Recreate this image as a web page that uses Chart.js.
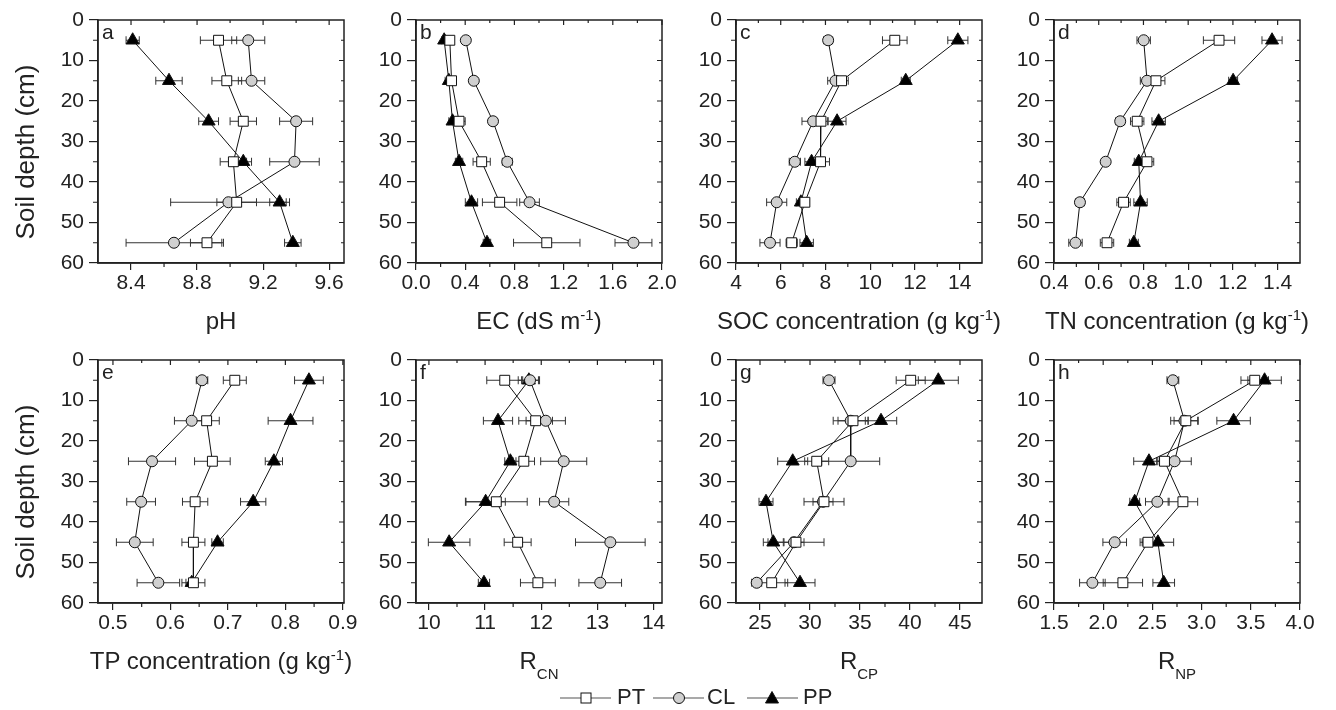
<!DOCTYPE html>
<html>
<head>
<meta charset="utf-8">
<script src="https://cdn.jsdelivr.net/npm/chart.js@4.4.1/dist/chart.umd.min.js"></script>
<style>
  body { margin: 0; background: #fff; width: 1336px; height: 710px; position: relative; overflow: hidden;
         font-family: "Liberation Sans", Arial, sans-serif; color: #222; }
  canvas { position: absolute; }
  .t { position: absolute; font-size: 24px; line-height: 1; white-space: nowrap; transform: translateX(-50%); }
  .t sup { font-size: 15px; line-height: 0; vertical-align: 9px; }
  .t sub { font-size: 15px; line-height: 0; vertical-align: -10px; }
  .yt { position: absolute; font-size: 26px; line-height: 1; white-space: nowrap; transform: translate(-50%, -50%) rotate(-90deg); }
  .lt { position: absolute; font-size: 21px; line-height: 1; }
  .lg { position: absolute; font-size: 22px; line-height: 1; }
</style>
</head>
<body>
<script>
// soil depth of each sampled layer (cm)
const depth = [5, 15, 25, 35, 45, 55];
const depthTicks = [0, 10, 20, 30, 40, 50, 60];

// a - pH
const phPT = [8.93, 8.98, 9.08, 9.02, 9.04, 8.86];
const phPTse = [0.11, 0.09, 0.08, 0.08, 0.12, 0.10];
const phCL = [9.11, 9.13, 9.40, 9.39, 8.99, 8.66];
const phCLse = [0.10, 0.08, 0.10, 0.15, 0.35, 0.29];
const phPP = [8.41, 8.63, 8.87, 9.08, 9.30, 9.38];
const phPPse = [0.04, 0.08, 0.06, 0.05, 0.06, 0.05];
const phTicks = [8.4, 8.8, 9.2, 9.6];

// b - EC
const ecPT = [0.275, 0.289, 0.35, 0.534, 0.68, 1.063];
const ecPTse = [0.02, 0.02, 0.05, 0.07, 0.14, 0.27];
const ecCL = [0.405, 0.47, 0.626, 0.742, 0.923, 1.768];
const ecCLse = [0.02, 0.03, 0.03, 0.04, 0.08, 0.15];
const ecPP = [0.229, 0.267, 0.297, 0.35, 0.451, 0.577];
const ecPPse = [0.02, 0.03, 0.03, 0.03, 0.05, 0.03];
const ecTicks = [0, 0.4, 0.8, 1.2, 1.6, 2.0];

// c - SOC
const socPT = [11.10, 8.72, 7.80, 7.78, 7.08, 6.49];
const socPTse = [0.55, 0.30, 0.30, 0.40, 0.20, 0.25];
const socCL = [8.12, 8.45, 7.45, 6.63, 5.82, 5.52];
const socCLse = [0.20, 0.35, 0.50, 0.25, 0.45, 0.45];
const socPP = [13.92, 11.59, 8.52, 7.38, 6.90, 7.16];
const socPPse = [0.45, 0.20, 0.40, 0.30, 0.20, 0.30];
const socTicks = [4, 6, 8, 10, 12, 14];

// d - TN
const tnPT = [1.138, 0.856, 0.772, 0.816, 0.711, 0.637];
const tnPTse = [0.07, 0.04, 0.03, 0.03, 0.03, 0.03];
const tnCL = [0.801, 0.816, 0.696, 0.631, 0.516, 0.496];
const tnCLse = [0.03, 0.03, 0.02, 0.01, 0.02, 0.03];
const tnPP = [1.375, 1.201, 0.868, 0.779, 0.787, 0.757];
const tnPPse = [0.045, 0.02, 0.03, 0.02, 0.03, 0.02];
const tnTicks = [0.4, 0.6, 0.8, 1.0, 1.2, 1.4];

// e - TP
const tpPT = [0.712, 0.663, 0.673, 0.643, 0.640, 0.640];
const tpPTse = [0.02, 0.022, 0.031, 0.022, 0.02, 0.02];
const tpCL = [0.655, 0.637, 0.568, 0.549, 0.538, 0.579];
const tpCLse = [0.01, 0.03, 0.041, 0.025, 0.032, 0.037];
const tpPP = [0.841, 0.809, 0.780, 0.744, 0.682, 0.637];
const tpPPse = [0.025, 0.039, 0.015, 0.022, 0.01, 0.01];
const tpTicks = [0.5, 0.6, 0.7, 0.8, 0.9];

// f - C:N
const cnPT = [11.35, 11.90, 11.69, 11.20, 11.58, 11.94];
const cnPTse = [0.32, 0.30, 0.19, 0.55, 0.24, 0.31];
const cnCL = [11.80, 12.08, 12.40, 12.23, 13.23, 13.05];
const cnCLse = [0.15, 0.35, 0.41, 0.26, 0.62, 0.38];
const cnPP = [11.78, 11.23, 11.45, 11.01, 10.36, 10.98];
const cnPPse = [0.19, 0.26, 0.10, 0.35, 0.37, 0.10];
const cnTicks = [10, 11, 12, 13, 14];

// g - C:P
const cpPT = [40.07, 34.3, 30.67, 31.4, 28.6, 26.17];
const cpPTse = [1.45, 1.5, 1.2, 2.0, 2.8, 1.6];
const cpCL = [31.9, 34.07, 34.07, 31.3, 28.4, 24.67];
const cpCLse = [0.6, 1.75, 2.9, 1.0, 1.0, 0.5];
const cpPP = [42.83, 37.1, 28.27, 25.6, 26.33, 29.0];
const cpPPse = [2.0, 1.57, 1.5, 0.7, 1.0, 1.5];
const cpTicks = [25, 30, 35, 40, 45];

// h - N:P
const npPT = [3.54, 2.84, 2.623, 2.81, 2.455, 2.20];
const npPTse = [0.14, 0.12, 0.08, 0.15, 0.08, 0.20];
const npCL = [2.708, 2.826, 2.725, 2.55, 2.117, 1.89];
const npCLse = [0.06, 0.14, 0.17, 0.12, 0.12, 0.13];
const npPP = [3.64, 3.325, 2.465, 2.32, 2.556, 2.615];
const npPPse = [0.17, 0.17, 0.155, 0.05, 0.16, 0.11];
const npTicks = [1.5, 2.0, 2.5, 3.0, 3.5, 4.0];

const colX = [98, 416, 736, 1054]; // left edge of each plot box
const rowY = [20, 360];            // top edge of each plot box
const PW = 246, PH = 243;
const FONT = '"Liberation Sans", Arial, sans-serif';

const panels = [
  { tag: 'a', col: 0, row: 0, min: 8.2, max: 9.69, ticks: phTicks, minor: 0.2, dec: 1,
    pt: phPT, ptE: phPTse, cl: phCL, clE: phCLse, pp: phPP, ppE: phPPse, title: 'pH' },
  { tag: 'b', col: 1, row: 0, min: 0, max: 2.0, ticks: ecTicks, minor: 0.2, dec: 1,
    pt: ecPT, ptE: ecPTse, cl: ecCL, clE: ecCLse, pp: ecPP, ppE: ecPPse, title: 'EC (dS m<sup>-1</sup>)' },
  { tag: 'c', col: 2, row: 0, min: 4, max: 15, ticks: socTicks, minor: 1, dec: 0,
    pt: socPT, ptE: socPTse, cl: socCL, clE: socCLse, pp: socPP, ppE: socPPse, title: 'SOC concentration (g kg<sup>-1</sup>)' },
  { tag: 'd', col: 3, row: 0, min: 0.4, max: 1.5, ticks: tnTicks, minor: 0.1, dec: 1,
    pt: tnPT, ptE: tnPTse, cl: tnCL, clE: tnCLse, pp: tnPP, ppE: tnPPse, title: 'TN concentration (g kg<sup>-1</sup>)' },
  { tag: 'e', col: 0, row: 1, min: 0.474, max: 0.902, ticks: tpTicks, minor: 0.05, dec: 1,
    pt: tpPT, ptE: tpPTse, cl: tpCL, clE: tpCLse, pp: tpPP, ppE: tpPPse, title: 'TP concentration (g kg<sup>-1</sup>)' },
  { tag: 'f', col: 1, row: 1, min: 9.77, max: 14.15, ticks: cnTicks, minor: 0.5, dec: 0,
    pt: cnPT, ptE: cnPTse, cl: cnCL, clE: cnCLse, pp: cnPP, ppE: cnPPse, title: 'R<sub>CN</sub>' },
  { tag: 'g', col: 2, row: 1, min: 22.6, max: 47.2, ticks: cpTicks, minor: 2.5, dec: 0,
    pt: cpPT, ptE: cpPTse, cl: cpCL, clE: cpCLse, pp: cpPP, ppE: cpPPse, title: 'R<sub>CP</sub>' },
  { tag: 'h', col: 3, row: 1, min: 1.5, max: 4.0, ticks: npTicks, minor: 0.25, dec: 1,
    pt: npPT, ptE: npPTse, cl: npCL, clE: npCLse, pp: npPP, ppE: npPPse, title: 'R<sub>NP</sub>' }
];

// box, minor ticks, inward ticks on top/right, and horizontal error bars
const frame = {
  id: 'frame',
  beforeDatasetsDraw(chart, args, opts) {
    const { ctx, chartArea: a, scales: { x, y } } = chart;
    ctx.save();
    ctx.strokeStyle = '#222';
    ctx.lineWidth = 1.5;
    ctx.strokeRect(a.left, a.top, a.right - a.left, a.bottom - a.top);

    ctx.lineWidth = 1.2;
    ctx.beginPath();
    const majX = x.ticks.map(t => t.value);
    const k0 = Math.ceil(x.min / opts.minor - 1e-6), k1 = Math.floor(x.max / opts.minor + 1e-6);
    for (let k = k0; k <= k1; k++) {
      const v = k * opts.minor;
      const px = x.getPixelForValue(v);
      const isMaj = majX.some(m => Math.abs(m - v) < opts.minor / 10);
      if (!isMaj && (px - a.left < 2 || a.right - px < 2)) continue;
      if (!isMaj) { ctx.moveTo(px, a.bottom); ctx.lineTo(px, a.bottom + 4); }
      ctx.moveTo(px, a.top); ctx.lineTo(px, a.top + (isMaj ? 5 : 3));
    }
    for (let d = 0; d <= 60; d += 5) {
      const py = y.getPixelForValue(d);
      const isMaj = d % 10 === 0;
      if (!isMaj) { ctx.moveTo(a.left, py); ctx.lineTo(a.left - 5, py); }
      if (d > 0 && d < 60) { ctx.moveTo(a.right, py); ctx.lineTo(a.right - (isMaj ? 5 : 3), py); }
    }
    ctx.stroke();

    // error bars
    ctx.strokeStyle = '#333';
    ctx.lineWidth = 1;
    chart.data.datasets.forEach((ds, i) => {
      const meta = chart.getDatasetMeta(i);
      ctx.beginPath();
      meta.data.forEach((el, j) => {
        const v = ds.data[j].x, e = ds.errs[j];
        const xl = x.getPixelForValue(v - e), xr = x.getPixelForValue(v + e);
        ctx.moveTo(xl, el.y); ctx.lineTo(xr, el.y);
        ctx.moveTo(xl, el.y - 4); ctx.lineTo(xl, el.y + 4);
        ctx.moveTo(xr, el.y - 4); ctx.lineTo(xr, el.y + 4);
      });
      ctx.stroke();
    });
    ctx.restore();
  }
};

function series(label, vals, errs, style, fill, r) {
  return {
    label: label,
    data: vals.map((v, i) => ({ x: v, y: depth[i] })),
    errs: errs,
    showLine: true,
    borderColor: '#111',
    borderWidth: 1,
    pointStyle: style,
    pointRadius: r,
    pointHoverRadius: r,
    pointBackgroundColor: fill,
    pointBorderColor: '#111',
    pointBorderWidth: 1
  };
}

function addText(cls, html, left, top) {
  const el = document.createElement('div');
  el.className = cls;
  el.innerHTML = html;
  el.style.left = left + 'px';
  el.style.top = top + 'px';
  document.body.appendChild(el);
}

panels.forEach(p => {
  const L = colX[p.col], T = rowY[p.row];
  const cv = document.createElement('canvas');
  cv.width = 60 + PW + 24;
  cv.height = 12 + PH + 45;
  cv.style.left = (L - 60) + 'px';
  cv.style.top = (T - 12) + 'px';
  document.body.appendChild(cv);

  new Chart(cv, {
    type: 'scatter',
    data: {
      datasets: [
        series('PT', p.pt, p.ptE, 'rect', '#ffffff', 7),
        series('CL', p.cl, p.clE, 'circle', '#d0d0d0', 5.5),
        series('PP', p.pp, p.ppE, 'triangle', '#000000', 7.5)
      ]
    },
    options: {
      responsive: false,
      animation: false,
      devicePixelRatio: 1,
      layout: { padding: { left: 0, top: 12, right: 24, bottom: 0 } },
      plugins: {
        legend: { display: false },
        tooltip: { enabled: false },
        frame: { minor: p.minor }
      },
      scales: {
        x: {
          type: 'linear', min: p.min, max: p.max,
          afterBuildTicks: s => { s.ticks = p.ticks.map(v => ({ value: v })); },
          afterFit: s => { s.height = 45; s.paddingLeft = 0; s.paddingRight = 0; },
          grid: { drawOnChartArea: false, tickLength: 7, color: '#222', lineWidth: 1.2 },
          border: { color: '#222', width: 1.5 },
          ticks: { padding: 1, color: '#222', autoSkip: false, maxRotation: 0,
                   font: { family: FONT, size: 21 },
                   callback: v => Number(v).toFixed(p.dec) }
        },
        y: {
          type: 'linear', reverse: true, min: 0, max: 60,
          afterBuildTicks: s => { s.ticks = depthTicks.map(v => ({ value: v })); },
          afterFit: s => { s.width = 60; s.paddingTop = 0; s.paddingBottom = 0; },
          grid: { drawOnChartArea: false, tickLength: 9, color: '#222', lineWidth: 1.2 },
          border: { color: '#222', width: 1.5 },
          ticks: { padding: 5, color: '#222', font: { family: FONT, size: 21 } }
        }
      }
    },
    plugins: [frame]
  });

  addText('lt', p.tag, L + 4, T + 1);
  addText('t', p.title, L + PW / 2, T + PH + 46);
});

addText('yt', 'Soil depth (cm)', 25, 152);
addText('yt', 'Soil depth (cm)', 25, 492);

// legend
const leg = document.createElement('div');
leg.style.cssText = 'position:absolute;left:556px;top:686px;width:300px;height:24px;';
leg.innerHTML =
  '<svg width="300" height="24" style="position:absolute;left:0;top:0">' +
  '<line x1="4" y1="12" x2="55" y2="12" stroke="#555" stroke-width="1.2"/>' +
  '<rect x="25" y="7" width="10" height="10" fill="#fff" stroke="#111"/>' +
  '<line x1="97" y1="12" x2="148" y2="12" stroke="#555" stroke-width="1.2"/>' +
  '<circle cx="123" cy="12" r="5.5" fill="#d0d0d0" stroke="#111"/>' +
  '<line x1="191" y1="12" x2="242" y2="12" stroke="#555" stroke-width="1.2"/>' +
  '<polygon points="216,5.5 222.5,17 209.5,17" fill="#000" stroke="#111"/>' +
  '</svg>';
document.body.appendChild(leg);
addText('lg', 'PT', 617, 686);
addText('lg', 'CL', 707, 686);
addText('lg', 'PP', 803, 686);
</script>
</body>
</html>
